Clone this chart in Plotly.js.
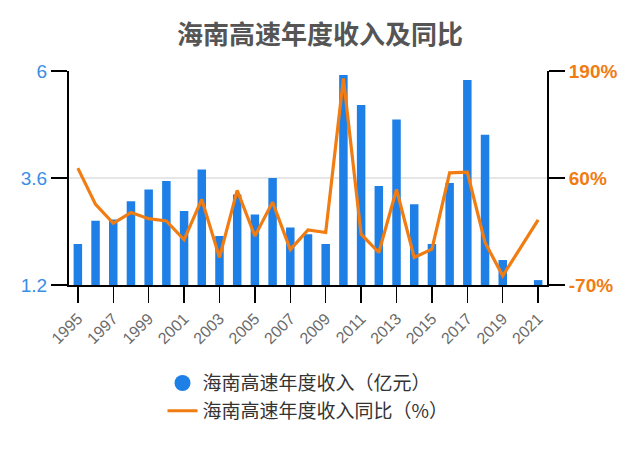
<!DOCTYPE html>
<html>
<head>
<meta charset="utf-8">
<script src="https://cdn.plot.ly/plotly-3.0.1.min.js"></script>
<style>
  html, body { margin: 0; padding: 0; background: #fff; }
  #chart { width: 640px; height: 450px; }
</style>
</head>
<body>
<div id="chart"></div>
<script>
const years = [
  "1995", "1996", "1997", "1998", "1999", "2000", "2001", "2002", "2003",
  "2004", "2005", "2006", "2007", "2008", "2009", "2010", "2011", "2012",
  "2013", "2014", "2015", "2016", "2017", "2018", "2019", "2020", "2021",
];
// revenue, 亿元
const revenue = [
  2.12, 2.64, 2.67, 3.08, 3.34, 3.53, 2.86, 3.79, 2.3,
  3.23, 2.78, 3.6, 2.49, 2.34, 2.12, 5.91, 5.24, 3.42,
  4.91, 3.01, 2.12, 3.49, 5.8, 4.57, 1.76, null, 1.31,
];
// year-on-year, %
const yoy = [
  72, 28, 5, 18, 10.6, 7.8, -15, 34, -36.5,
  45, -10.4, 30.7, -27, -3.2, -6.2, 181, -8.3, -30.5,
  46, -36.5, -26.5, 66.3, 67, -18.4, -58.8, null, 9,
];
const barName = "海南高速年度收入（亿元）";
const lineName = "海南高速年度收入同比（%）";

const blue = "#1e80e6";
const orange = "#f07c12";
const cjk = "'Noto Sans CJK SC', 'Liberation Sans', sans-serif";
const latin = "'Liberation Sans', sans-serif";

const data = [
  {
    type: "bar",
    name: barName,
    x: years,
    y: revenue,
    marker: { color: blue },
    showlegend: false,
  },
  {
    // legend entry only, so the swatch is a round dot
    type: "scatter",
    mode: "markers",
    name: barName,
    x: [null],
    y: [null],
    marker: { color: blue, size: 18, symbol: "circle" },
  },
  {
    type: "scatter",
    mode: "lines",
    name: lineName,
    x: years,
    y: yoy,
    yaxis: "y2",
    connectgaps: true,
    line: { color: orange, width: 3.2 },
  },
];

const axisLine = {
  ticks: "outside",
  ticklen: 16,
  tickcolor: "#000",
  tickwidth: 1.5,
  showline: true,
  linecolor: "#000",
  linewidth: 2,
  zeroline: false,
};

const layout = {
  width: 640,
  height: 450,
  margin: { l: 69, r: 93, t: 71, b: 165 },
  paper_bgcolor: "#fff",
  plot_bgcolor: "#fff",
  font: { family: cjk, color: "#555" },
  title: {
    text: "<b>海南高速年度收入及同比</b>",
    font: { family: cjk, size: 26, color: "#555" },
    x: 0.5,
    xanchor: "center",
    y: 0.922,
    yanchor: "middle",
  },
  bargap: 0.52,
  xaxis: {
    ...axisLine,
    type: "category",
    range: [-0.5, 26.5],
    tickvals: years.filter((y, i) => i % 2 === 0),
    tickangle: -45,
    showgrid: false,
    tickfont: { family: latin, size: 16, color: "#6a6a6a" },
  },
  yaxis: {
    ...axisLine,
    range: [1.2, 6],
    tickvals: [1.2, 3.6, 6],
    ticktext: ["1.2", "3.6", "6"],
    ticklabelstandoff: 0,
    showgrid: true,
    gridcolor: "#e6e6e6",
    gridwidth: 2,
    tickfont: { family: latin, size: 19, color: "#3a8ee6" },
  },
  yaxis2: {
    ...axisLine,
    overlaying: "y",
    side: "right",
    range: [-70, 190],
    tickvals: [-70, 60, 190],
    ticktext: ["-70%", "60%", "190%"],
    ticklabelstandoff: 0,
    showgrid: false,
    tickfont: { family: latin, size: 19, color: orange, weight: "bold" },
  },
  legend: {
    orientation: "v",
    x: 0.5,
    xanchor: "center",
    y: -0.37,
    yanchor: "top",
    font: { family: cjk, size: 19, color: "#333" },
    tracegroupgap: 0,
  },
};

Plotly.newPlot("chart", data, layout, { displayModeBar: false, staticPlot: true });
</script>
</body>
</html>
